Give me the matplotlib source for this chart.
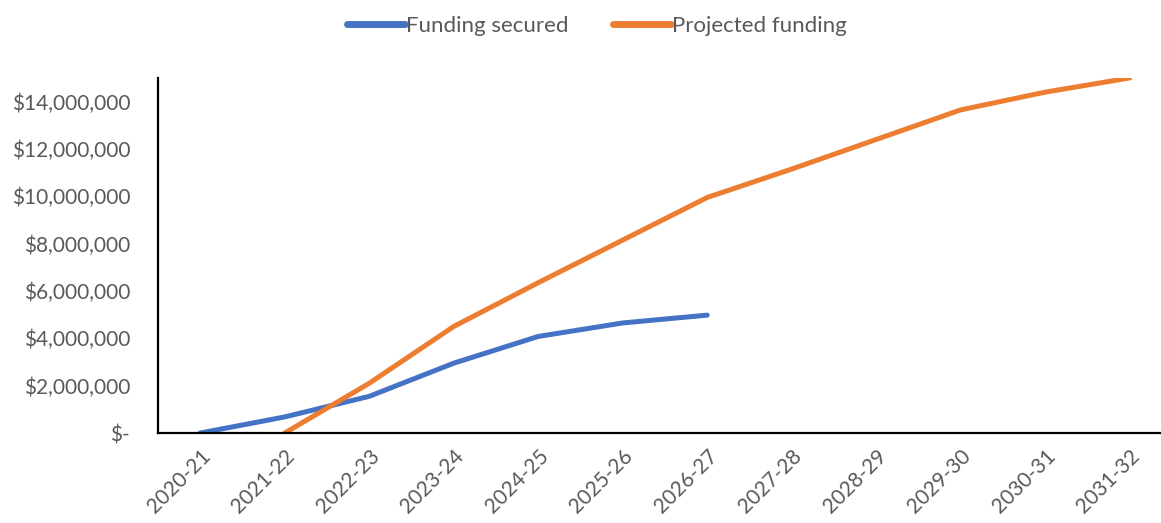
import matplotlib
matplotlib.use('Agg')
import matplotlib.pyplot as plt
from matplotlib.ticker import FuncFormatter

plt.rcParams['font.family'] = ['Lato', 'DejaVu Sans']

years = ['2020-21', '2021-22', '2022-23', '2023-24', '2024-25', '2025-26',
         '2026-27', '2027-28', '2028-29', '2029-30', '2030-31', '2031-32']

# funding secured runs to 2026-27 only
secured = [0, 680000, 1550000, 2950000, 4080000, 4650000, 4980000]

# projected starts in 2021-22
projected = [0, 2100000, 4500000, 6350000, 8150000, 9950000,
             11150000, 12400000, 13650000, 14400000, 15000000]

yticks = [0, 2000000, 4000000, 6000000, 8000000, 10000000, 12000000, 14000000]

BLUE = '#4472C4'
ORANGE = '#ED7D31'
GREY = '#595959'


def money(v, pos):
    if v == 0:
        return '$-'
    return '${:,.0f}'.format(v)


def main():
    fig = plt.figure(figsize=(11.61, 5.23), dpi=100)
    ax = fig.add_axes([0.136, 0.172, 0.864, 0.679])

    x_sec = list(range(len(secured)))
    x_proj = list(range(1, 1 + len(projected)))
    ax.plot(x_sec, secured, color=BLUE, lw=3.6, solid_capstyle='round',
            label='Funding secured')
    ax.plot(x_proj, projected, color=ORANGE, lw=3.6, solid_capstyle='round',
            label='Projected funding')

    ax.set_xlim(-0.5, 11.37)
    ax.set_ylim(0, 15000000)
    ax.set_xticks(range(len(years)))
    ax.set_xticklabels(years, rotation=45, ha='right', rotation_mode='anchor')
    ax.set_yticks(yticks)
    ax.yaxis.set_major_formatter(FuncFormatter(money))
    ax.tick_params(axis='both', length=0, labelsize=15, labelcolor=GREY)
    ax.tick_params(axis='y', pad=20)
    ax.tick_params(axis='x', pad=9)

    for s in ['top', 'right']:
        ax.spines[s].set_visible(False)
    for s in ['left', 'bottom']:
        ax.spines[s].set_linewidth(1.6)
        ax.spines[s].set_color('black')
    ax.grid(False)

    leg = fig.legend(loc='center', bbox_to_anchor=(597 / 1161, 1 - 26 / 523), ncol=2,
                     frameon=False, fontsize=16, handlelength=2.6, handletextpad=0.05,
                     columnspacing=2.0, labelcolor=GREY)
    for h in leg.legend_handles:
        h.set_linewidth(5)

    fig.savefig('out.png', dpi=100)


if __name__ == '__main__':
    main()
